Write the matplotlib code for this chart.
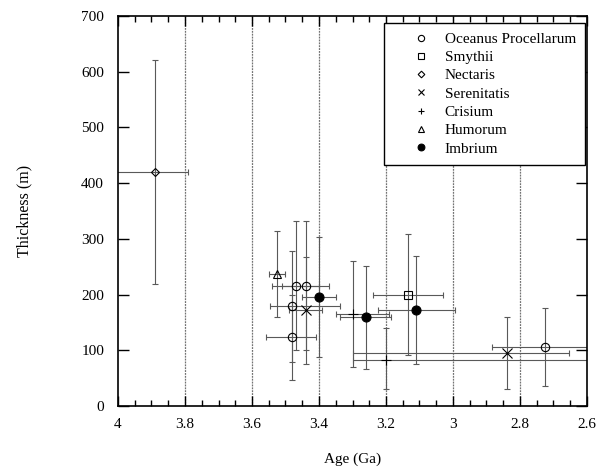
import matplotlib
matplotlib.use("Agg")
import matplotlib.pyplot as plt
from matplotlib.ticker import MultipleLocator
from matplotlib.lines import Line2D

plt.rcParams['font.family'] = ['Liberation Serif', 'DejaVu Serif']

# ---- data (age in Ga, thickness in m); x-error: (toward younger, toward older) ----
oc_age = [3.47, 3.44, 3.48, 3.48, 2.725]
oc_thk = [216, 216, 179, 123, 106]
oc_xlo = [0.07, 0.07, 0.143, 0.07, 0.16]
oc_xhi = [0.07, 0.07, 0.066, 0.078, 0.16]
oc_ylo = [116, 116, 100, 76, 70]
oc_yhi = [116, 116, 100, 76, 70]

sm_age = [3.135]
sm_thk = [200]
sm_xlo = [0.105]
sm_xhi = [0.105]
sm_ylo = [109]
sm_yhi = [109]

ne_age = [3.89]
ne_thk = [420]
ne_xlo = [0.10]
ne_xhi = [0.13]
ne_ylo = [201]
ne_yhi = [201]

se_age = [3.44, 2.84]
se_thk = [172, 95]
se_xlo = [0.05, 0.185]
se_xhi = [0.05, 0.46]
se_ylo = [96, 65]
se_yhi = [96, 65]

cr_age = [3.30, 3.20]
cr_thk = [165, 82]
cr_xlo = [0.11, 0.70]
cr_xhi = [0.048, 0.10]
cr_ylo = [95, 52]
cr_yhi = [95, 58]

hu_age = [3.525]
hu_thk = [237]
hu_xlo = [0.024]
hu_xhi = [0.024]
hu_ylo = [77]
hu_yhi = [77]

im_age = [3.40, 3.26, 3.11]
im_thk = [196, 159, 172]
im_xlo = [0.05, 0.076, 0.115]
im_xhi = [0.05, 0.076, 0.115]
im_ylo = [108, 92, 97]
im_yhi = [108, 92, 97]

series = [
    ("Oceanus Procellarum", oc_age, oc_thk, oc_xlo, oc_xhi, oc_ylo, oc_yhi, 'o', 'none', 6.0),
    ("Smythii", sm_age, sm_thk, sm_xlo, sm_xhi, sm_ylo, sm_yhi, 's', 'none', 6.0),
    ("Nectaris", ne_age, ne_thk, ne_xlo, ne_xhi, ne_ylo, ne_yhi, 'D', 'none', 4.5),
    ("Serenitatis", se_age, se_thk, se_xlo, se_xhi, se_ylo, se_yhi, 'x', 'k', 6.5),
    ("Crisium", cr_age, cr_thk, cr_xlo, cr_xhi, cr_ylo, cr_yhi, '+', 'k', 6.5),
    ("Humorum", hu_age, hu_thk, hu_xlo, hu_xhi, hu_ylo, hu_yhi, '^', 'none', 6.0),
    ("Imbrium", im_age, im_thk, im_xlo, im_xhi, im_ylo, im_yhi, 'o', 'k', 6.5),
]

fig = plt.figure(figsize=(5.98, 4.73), dpi=100)
ax = fig.add_axes([118/598, 1-406/473, 469/598, 390/473])

ax.set_xlim(4, 2.6)
ax.set_ylim(0, 700)

for xv in [3.8, 3.6, 3.4, 3.2, 3.0, 2.8]:
    ax.axvline(xv, color='0.45', lw=0.9, ls=(0, (1.5, 0.8)), zorder=1)

handles = []
for name, xs, ys, xlo, xhi, ylo, yhi, mk, fc, ms in series:
    ax.errorbar(xs, ys, xerr=[xlo, xhi], yerr=[ylo, yhi], fmt='none',
                ecolor='0.35', elinewidth=0.8, capsize=2.5, capthick=0.8,
                zorder=2)
    ax.plot(xs, ys, ls='none', marker=mk, mfc=fc, mec='k', mew=0.8,
            ms=ms, zorder=3)
    handles.append(Line2D([], [], ls='none', marker=mk, mfc=fc, mec='k',
                          mew=0.8, ms=ms * 0.75, label=name))

ax.set_xticks([4, 3.8, 3.6, 3.4, 3.2, 3, 2.8, 2.6])
ax.set_xticklabels(['4', '3.8', '3.6', '3.4', '3.2', '3', '2.8', '2.6'])
ax.xaxis.set_minor_locator(MultipleLocator(0.05))
ax.yaxis.set_major_locator(MultipleLocator(100))

ax.tick_params(axis='both', which='both', direction='in', top=True, right=True,
               labelsize=11, colors='k')
ax.tick_params(axis='x', which='major', length=7, width=1.0, pad=9)
ax.tick_params(axis='x', which='minor', length=4, width=1.0)
ax.tick_params(axis='y', which='major', length=8, width=1.0, pad=10)
for s in ax.spines.values():
    s.set_linewidth(1.2)

ax.set_xlabel("Age (Ga)", fontsize=11, labelpad=15)
ax.set_ylabel("Thickness (m)", fontsize=11.5, labelpad=35)

leg = ax.legend(handles=handles, loc='upper right', bbox_to_anchor=(0.996, 0.982),
                borderaxespad=0, fontsize=11, frameon=True, fancybox=False,
                edgecolor='k', framealpha=1, borderpad=0.6, handlelength=3.73,
                handletextpad=-0.34, labelspacing=0.3, numpoints=1)
leg.get_frame().set_linewidth(1.0)

fig.savefig("out.png", dpi=100)
